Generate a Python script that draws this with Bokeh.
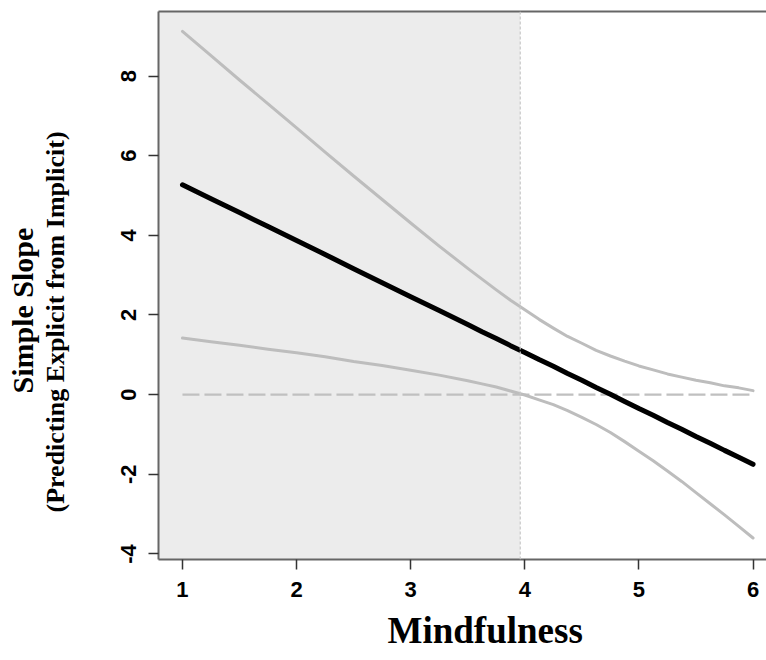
from bokeh.plotting import figure
from bokeh.models import (Range1d, BoxAnnotation, Span, Title, LinearAxis,
                          FixedTicker, PrintfTickFormatter)
from bokeh.embed import file_html
from bokeh.resources import INLINE

# Moderator values (Mindfulness)
mindfulness = [1.00, 1.25, 1.50, 1.75, 2.00, 2.25, 2.50, 2.75, 3.00, 3.25, 3.50,
               3.625, 3.75, 3.875, 4.00, 4.125, 4.25, 4.375, 4.50, 4.625, 4.75,
               4.875, 5.00, 5.125, 5.25, 5.375, 5.50, 5.625, 5.75, 5.875, 6.00]
# Simple slope of Explicit on Implicit
slope = [5.27, 4.92, 4.57, 4.22, 3.87, 3.52, 3.16, 2.81, 2.46, 2.11, 1.76,
         1.58, 1.41, 1.23, 1.06, 0.88, 0.71, 0.53, 0.36, 0.18, 0.01,
         -0.17, -0.35, -0.52, -0.70, -0.87, -1.05, -1.22, -1.40, -1.57, -1.75]
# 95% confidence band
upper = [9.12, 8.51, 7.90, 7.30, 6.70, 6.09, 5.49, 4.90, 4.31, 3.73, 3.17,
         2.90, 2.63, 2.37, 2.13, 1.89, 1.67, 1.46, 1.29, 1.11, 0.97,
         0.84, 0.72, 0.62, 0.52, 0.44, 0.36, 0.30, 0.22, 0.17, 0.10]
lower = [1.42, 1.33, 1.24, 1.14, 1.05, 0.95, 0.83, 0.73, 0.61, 0.49, 0.35,
         0.27, 0.19, 0.09, -0.01, -0.13, -0.25, -0.40, -0.57, -0.75, -0.95,
         -1.18, -1.42, -1.66, -1.92, -2.18, -2.46, -2.74, -3.02, -3.31, -3.60]
# Johnson-Neyman boundary of the region of significance
jn_point = 3.96

x_ticks = [1, 2, 3, 4, 5, 6]
y_ticks = [-4, -2, 0, 2, 4, 6, 8]

title_font = "Liberation Serif"

p = figure(width=766, height=660,
           x_range=Range1d(0.79, 6.118), y_range=Range1d(-4.14, 9.62),
           output_backend="svg", toolbar_location=None,
           min_border_left=158, min_border_right=0,
           min_border_top=11, min_border_bottom=101)
p.outline_line_color = None
p.background_fill_color = "white"
p.border_fill_color = "white"
p.xgrid.visible = False
p.ygrid.visible = False

# Shaded region of significance
p.add_layout(BoxAnnotation(right=jn_point, fill_color="#ececec", fill_alpha=1.0,
                           line_color=None, level="underlay"))
p.add_layout(Span(location=jn_point, dimension="height", line_color="#c8c8c8",
                  line_width=1.2, line_dash="3 2"))

# Zero reference line
p.line([mindfulness[0], mindfulness[-1]], [0, 0], line_color="#c0c0c0",
       line_width=2.2, line_dash="17 5")

# Confidence band and simple slope
p.line(mindfulness, upper, line_color="#bdbdbd", line_width=3, line_cap="round",
       line_join="round")
p.line(mindfulness, lower, line_color="#bdbdbd", line_width=3, line_cap="round",
       line_join="round")
p.line(mindfulness, slope, line_color="#000000", line_width=5, line_cap="round",
       line_join="round")

for ax, ticks in ((p.xaxis[0], x_ticks), (p.yaxis[0], y_ticks)):
    ax.ticker = FixedTicker(ticks=ticks)
    ax.formatter = PrintfTickFormatter(format="%d")
    ax.minor_tick_line_color = None
    ax.axis_line_color = "#666666"
    ax.axis_line_width = 2
    ax.major_tick_line_color = "#333333"
    ax.major_tick_line_width = 1.5
    ax.major_tick_out = 10
    ax.major_tick_in = 0
    ax.major_label_text_font = "Liberation Sans"
    ax.major_label_text_font_style = "bold"
    ax.major_label_text_font_size = "22px"
    ax.major_label_text_color = "#000000"
    ax.major_label_standoff = 12
p.yaxis[0].major_label_orientation = "vertical"

# x title
p.add_layout(Title(text="Mindfulness", align="left", offset=229,
                   vertical_align="bottom", standoff=17,
                   text_font=title_font, text_font_style="bold",
                   text_font_size="37px", text_color="#000000"), "below")

# Two-line y title: a thin spacer, then the inner and the outer line
p.add_layout(Title(text="\u00a0", text_font_size="1px", standoff=46), "left")
p.add_layout(Title(text="(Predicting Explicit from Implicit)", align="left",
                   offset=47, vertical_align="bottom", standoff=0,
                   text_font=title_font, text_font_style="bold",
                   text_font_size="26px", text_color="#000000"), "left")
p.add_layout(Title(text="Simple Slope", align="left", offset=166,
                   vertical_align="bottom", standoff=0,
                   text_font=title_font, text_font_style="bold",
                   text_font_size="30px", text_color="#000000"), "left")

# Top edge of the plotting box
top = LinearAxis(ticker=FixedTicker(ticks=[]), axis_line_color="#666666",
                 axis_line_width=2, major_label_text_font_size="0px",
                 minor_tick_line_color=None, major_tick_line_color=None)
p.add_layout(top, "above")

open("out.html", "w").write(file_html(p, INLINE))
